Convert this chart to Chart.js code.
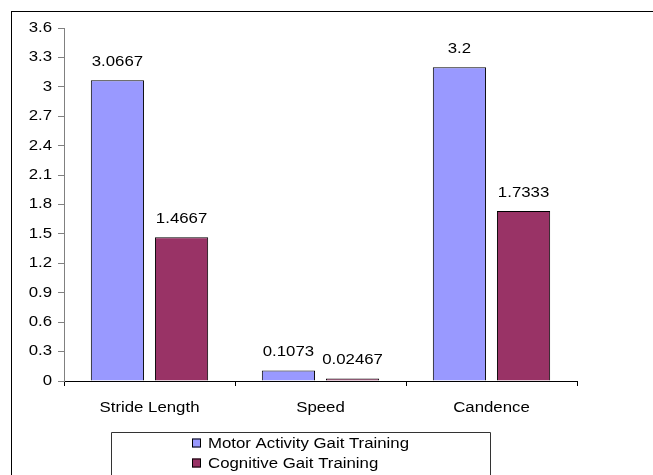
<!DOCTYPE html>
<html>
<head>
<meta charset="utf-8">
<script src="https://cdn.jsdelivr.net/npm/chart.js@4/dist/chart.umd.min.js"></script>
<style>
  html, body { margin: 0; padding: 0; background: #ffffff; }
  canvas { display: block; }
</style>
</head>
<body>
<canvas id="gait" width="653" height="475"></canvas>
<script>
// Gait outcome changes by training type
const categories = ['Stride Length', 'Speed', 'Candence'];
const seriesNames = ['Motor Activity Gait Training', 'Cognitive Gait Training'];
const motorValues = [3.0667, 0.1073, 3.2];
const cognitiveValues = [1.4667, 0.02467, 1.7333];
const yTickLabels = ['0', '0.3', '0.6', '0.9', '1.2', '1.5', '1.8', '2.1', '2.4', '2.7', '3', '3.3', '3.6'];

const seriesColors = ['#9999ff', '#993366'];
const fontFamily = '"Liberation Sans", Arial, sans-serif';
const TEXT_FONT = '14px ' + fontFamily;
const TEXT_STRETCH = 1.2; // wide, horizontally stretched lettering

Chart.defaults.font.family = fontFamily;
Chart.defaults.font.size = 14;
Chart.defaults.color = '#000000';

// Draw a piece of text widened horizontally around its anchor point
function wideText(ctx, text, x, y, align) {
  ctx.save();
  ctx.translate(x, y);
  ctx.scale(TEXT_STRETCH, 1);
  ctx.font = TEXT_FONT;
  ctx.fillStyle = '#000000';
  ctx.textAlign = align;
  ctx.textBaseline = 'middle';
  ctx.fillText(text, 0, 0);
  ctx.restore();
}

// White page with a thin frame around the whole figure
const framePlugin = {
  id: 'frame',
  beforeDraw(chart) {
    const ctx = chart.ctx;
    ctx.save();
    ctx.fillStyle = '#ffffff';
    ctx.fillRect(0, 0, chart.width, chart.height);
    ctx.strokeStyle = '#000000';
    ctx.lineWidth = 1;
    ctx.strokeRect(11.5, 11.5, chart.width + 20, chart.height + 20);
    ctx.restore();
  }
};

// Axis tick labels, placed at the positions the scales give
const axisLabelPlugin = {
  id: 'axisLabels',
  afterDraw(chart) {
    const ctx = chart.ctx;
    const y = chart.scales.y;
    const x = chart.scales.x;
    const area = chart.chartArea;
    y.ticks.forEach((t, i) => {
      wideText(ctx, yTickLabels[i], area.left - 12, y.getPixelForTick(i), 'right');
    });
    chart.data.labels.forEach((label, i) => {
      wideText(ctx, label, x.getPixelForTick(i), area.bottom + 27, 'center');
    });
  }
};

// Value text above each bar
const valueLabelPlugin = {
  id: 'valueLabels',
  afterDatasetsDraw(chart) {
    const ctx = chart.ctx;
    chart.data.datasets.forEach((ds, di) => {
      chart.getDatasetMeta(di).data.forEach((bar, i) => {
        wideText(ctx, String(ds.data[i]), bar.x, bar.y - 18, 'center');
      });
    });
  }
};

// Boxed legend with the series stacked one per line
const boxLegendPlugin = {
  id: 'boxLegend',
  afterDraw(chart) {
    const ctx = chart.ctx;
    const box = { left: 111.5, right: 490.5, top: 432.5 };
    ctx.save();
    ctx.strokeStyle = '#333333';
    ctx.lineWidth = 1;
    ctx.beginPath();
    ctx.moveTo(box.left, chart.height + 5);
    ctx.lineTo(box.left, box.top);
    ctx.lineTo(box.right, box.top);
    ctx.lineTo(box.right, chart.height + 5);
    ctx.stroke();

    ctx.font = TEXT_FONT;
    const datasets = chart.data.datasets;
    const widest = TEXT_STRETCH * Math.max(...datasets.map(d => ctx.measureText(d.label).width));
    const sq = 9, gap = 7;
    const startX = Math.round((box.left + box.right) / 2 - (sq + gap + widest) / 2);
    const rowY = [443, 463];
    datasets.forEach((d, i) => {
      const yc = rowY[i];
      ctx.fillStyle = d.backgroundColor;
      ctx.fillRect(startX, yc - 4.5, sq, sq);
      ctx.strokeStyle = '#000000';
      ctx.strokeRect(startX + 0.5, yc - 4, sq - 1, sq - 1);
      wideText(ctx, d.label, startX + sq + gap, yc + 1.5, 'left');
    });
    ctx.restore();
  }
};

new Chart(document.getElementById('gait'), {
  type: 'bar',
  data: {
    labels: categories,
    datasets: [
      {
        label: seriesNames[0],
        data: motorValues,
        backgroundColor: seriesColors[0],
        borderColor: '#000000',
        borderWidth: 1
      },
      {
        label: seriesNames[1],
        data: cognitiveValues,
        backgroundColor: seriesColors[1],
        borderColor: '#000000',
        borderWidth: 1
      }
    ]
  },
  options: {
    responsive: false,
    animation: false,
    devicePixelRatio: 1,
    categoryPercentage: 0.75,
    barPercentage: 0.83,
    layout: { padding: { left: 20, top: 28, right: 76, bottom: 0 } },
    plugins: {
      legend: { display: false },
      tooltip: { enabled: false }
    },
    scales: {
      x: {
        grid: { drawOnChartArea: false, tickLength: 5, color: '#000000', offset: true },
        border: { color: '#000000', width: 1 },
        ticks: { display: false },
        afterFit(scale) { scale.height = 94; }
      },
      y: {
        min: 0,
        max: 3.6,
        ticks: { display: false, stepSize: 0.3 },
        grid: { drawOnChartArea: false, tickLength: 6, color: '#808080' },
        border: { color: '#808080', width: 1 },
        afterFit(scale) { scale.width = 44; }
      }
    }
  },
  plugins: [framePlugin, valueLabelPlugin, axisLabelPlugin, boxLegendPlugin]
});
</script>
</body>
</html>
